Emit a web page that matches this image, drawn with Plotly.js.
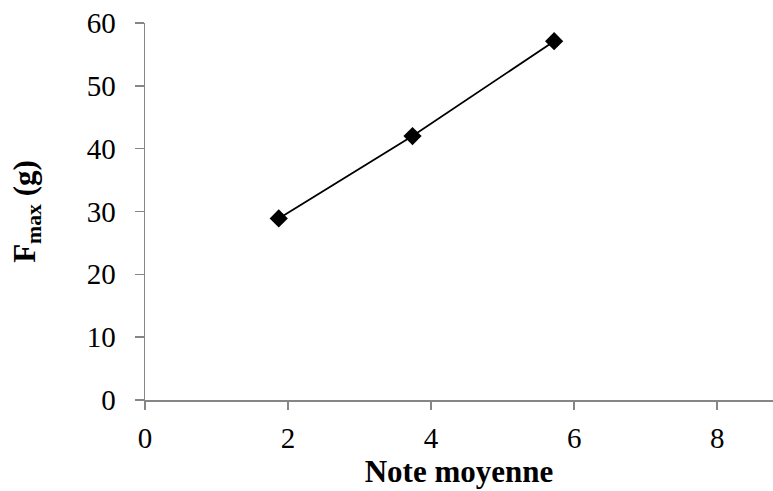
<!DOCTYPE html>
<html>
<head>
<meta charset="utf-8">
<script src="https://cdn.plot.ly/plotly-3.0.1.min.js"></script>
<style>html,body{margin:0;padding:0;background:#fff;}#chart{width:773px;height:491px;}</style>
</head>
<body>
<div id="chart"></div>
<script>
const noteMoyenne = [1.87, 3.74, 5.72];
const fmax = [28.9, 42.0, 57.1];
const xTicks = [0, 2, 4, 6, 8];
const yTicks = [0, 10, 20, 30, 40, 50, 60];

const font = 'Liberation Serif, Times New Roman, serif';

const trace = {
  x: noteMoyenne,
  y: fmax,
  type: 'scatter',
  mode: 'lines+markers',
  line: {color: '#000', width: 1.8},
  marker: {symbol: 'diamond', size: 14, color: '#000'},
  showlegend: false,
  cliponaxis: false
};

const layout = {
  width: 773,
  height: 491,
  margin: {l: 144.5, r: 0, t: 23, b: 91},
  paper_bgcolor: '#fff',
  plot_bgcolor: '#fff',
  font: {family: font, color: '#000', size: 29},
  xaxis: {
    range: [0, 8.78],
    tickvals: xTicks,
    ticktext: xTicks.map(String),
    showgrid: false,
    zeroline: false,
    showline: true,
    linecolor: '#868686',
    linewidth: 1.5,
    ticks: 'outside',
    ticklen: 8,
    tickwidth: 1.5,
    tickcolor: '#868686',
    ticklabelstandoff: 4,
    tickfont: {family: font, size: 29, color: '#000'},
    title: {text: '<b>Note moyenne</b>', font: {family: font, size: 31, color: '#000'}, standoff: 2}
  },
  yaxis: {
    range: [0, 60],
    tickvals: yTicks,
    ticktext: yTicks.map(String),
    showgrid: false,
    zeroline: false,
    showline: true,
    linecolor: '#868686',
    linewidth: 1.5,
    ticks: 'outside',
    ticklen: 9,
    tickwidth: 1.5,
    tickcolor: '#868686',
    ticklabelstandoff: 13,
    tickfont: {family: font, size: 29, color: '#000'},
    title: {text: '<b>F<sub>max</sub> (g)</b>', font: {family: font, size: 31, color: '#000'}, standoff: 42}
  }
};

Plotly.newPlot('chart', [trace], layout, {displayModeBar: false, staticPlot: true});
</script>
</body>
</html>
